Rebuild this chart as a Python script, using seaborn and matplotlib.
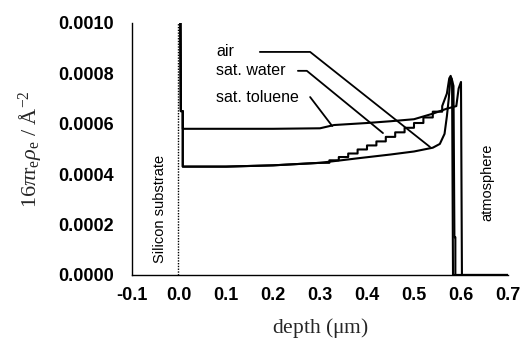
import matplotlib
matplotlib.use("Agg")
import matplotlib.pyplot as plt
import seaborn as sns
import pandas as pd
import numpy as np

# ---------------- data ----------------
air_depth = [0.003, 0.004, 0.008, 0.008, 0.1, 0.2, 0.3, 0.385, 0.45, 0.5,
             0.54, 0.555, 0.565, 0.57, 0.574, 0.577, 0.58, 0.584, 0.586, 0.588, 0.588, 0.7]
air_val = [0.0010, 0.00065, 0.00065, 0.00043, 0.00043, 0.000435, 0.000445,
           0.000464, 0.000478, 0.00049, 0.000505, 0.00052, 0.00056, 0.00063,
           0.0007, 0.00077, 0.00078, 0.00075, 0.00015, 0.00015, 0.0, 0.0]

water_depth = [0.003, 0.004, 0.008, 0.008, 0.1, 0.2, 0.30,
               0.32, 0.32, 0.34, 0.34, 0.36, 0.36, 0.38, 0.38, 0.40, 0.40,
               0.42, 0.42, 0.44, 0.44, 0.46, 0.46, 0.48, 0.48, 0.50, 0.50,
               0.52, 0.52, 0.54, 0.54, 0.56, 0.56, 0.57, 0.575, 0.578, 0.581, 0.583, 0.7]
water_val = [0.0010, 0.00065, 0.00065, 0.00043, 0.00043, 0.000435, 0.000445,
             0.000445, 0.000455, 0.000455, 0.000468, 0.000468, 0.000482, 0.000482, 0.000498,
             0.000498, 0.000514, 0.000514, 0.00053, 0.00053, 0.000548, 0.000548, 0.000566,
             0.000566, 0.000584, 0.000584, 0.000603, 0.000603, 0.000625, 0.000625, 0.000648,
             0.000648, 0.00067, 0.00072, 0.00078, 0.00079, 0.00077, 0.0, 0.0]

tol_depth = [0.003, 0.004, 0.008, 0.008, 0.1, 0.2, 0.3, 0.33, 0.4, 0.45, 0.5,
             0.54, 0.57, 0.59, 0.595, 0.6, 0.602, 0.7]
tol_val = [0.0010, 0.00065, 0.00065, 0.00058, 0.00058, 0.00058, 0.000582,
           0.000595, 0.000603, 0.00061, 0.000618, 0.00064, 0.00066, 0.00067,
           0.00074, 0.000766, 0.0, 0.0]

series_names = ["air", "sat. water", "sat. toluene"]
x_ticks = [-0.1, 0.0, 0.1, 0.2, 0.3, 0.4, 0.5, 0.6, 0.7]
y_ticks = [0.0, 0.0002, 0.0004, 0.0006, 0.0008, 0.0010]

# leader lines: (text position) -> elbow -> curve point
label_pos = [(0.079, 0.000885), (0.079, 0.00081), (0.079, 0.000706)]
leader_x = [[0.172, 0.279, 0.534], [0.253, 0.272, 0.434], [0.279, 0.279, 0.326]]
leader_y = [[0.000885, 0.000885, 0.000508], [0.00081, 0.00081, 0.000563],
            [0.000706, 0.000706, 0.000591]]

# ---------------- figure ----------------
sns.set_theme(style="white")
plt.rcParams["font.family"] = ["Liberation Sans", "DejaVu Sans"]
plt.rcParams["mathtext.fontset"] = "custom"
plt.rcParams["mathtext.rm"] = "Liberation Serif"
plt.rcParams["mathtext.it"] = "Liberation Serif:italic"

fig = plt.figure(figsize=(5.23, 3.53), dpi=100)
ax = fig.add_axes([0.2524, 0.221, 0.7189, 0.714])

frames = []
for name, d, v in zip(series_names, [air_depth, water_depth, tol_depth],
                      [air_val, water_val, tol_val]):
    frames.append(pd.DataFrame({"depth": d, "value": v, "series": name}))
df = pd.concat(frames, ignore_index=True)

for name in series_names:
    sub = df[df["series"] == name]
    sns.lineplot(data=sub, x="depth", y="value", sort=False, estimator=None,
                 color="black", linewidth=1.5, ax=ax, legend=False)

# silicon substrate boundary (dotted)
ax.axvline(-0.002, color="black", linestyle=(0, (1, 1)), linewidth=1.0, ymin=0, ymax=1)

# labels with leader lines
for name, (tx, ty), lx, ly in zip(series_names, label_pos, leader_x, leader_y):
    ax.text(tx, ty, name, fontsize=11.5, va="center", ha="left", color="black")
    ax.plot(lx, ly, color="black", linewidth=1.3)

ax.text(-0.040, 0.000262, "Silicon substrate", rotation=90, fontsize=10.5,
        ha="center", va="center", color="black")
ax.text(0.657, 0.000369, "atmosphere", rotation=90, fontsize=10.5,
        ha="center", va="center", color="black")

ax.set_xlim(-0.1, 0.7)
ax.set_ylim(0.0, 0.0010)
ax.set_xticks(x_ticks)
ax.set_xticklabels([f"{t:.1f}" for t in x_ticks])
ax.set_yticks(y_ticks)
ax.set_yticklabels([f"{t:.4f}" for t in y_ticks])
ax.tick_params(axis="x", direction="inout", length=6, width=1, labelsize=13,
               colors="black", pad=6)
ax.tick_params(axis="y", direction="out", length=5, width=1, labelsize=13,
               colors="black", pad=8)
for lab in ax.get_xticklabels() + ax.get_yticklabels():
    lab.set_fontweight("bold")
for s in ["top", "right"]:
    ax.spines[s].set_visible(False)
for s in ["left", "bottom"]:
    ax.spines[s].set_color("black")
    ax.spines[s].set_linewidth(1.0)

ax.set_xlabel(r"depth ($\mathrm{\mu}$m)", fontsize=15.5, family="Liberation Serif",
              labelpad=8)
ax.set_ylabel(r"16$\pi$r$_\mathrm{e}\rho_\mathrm{e}$ / Å$^{-2}$", fontsize=16,
              family="Liberation Serif", labelpad=10)

fig.savefig("out.png", dpi=100)
